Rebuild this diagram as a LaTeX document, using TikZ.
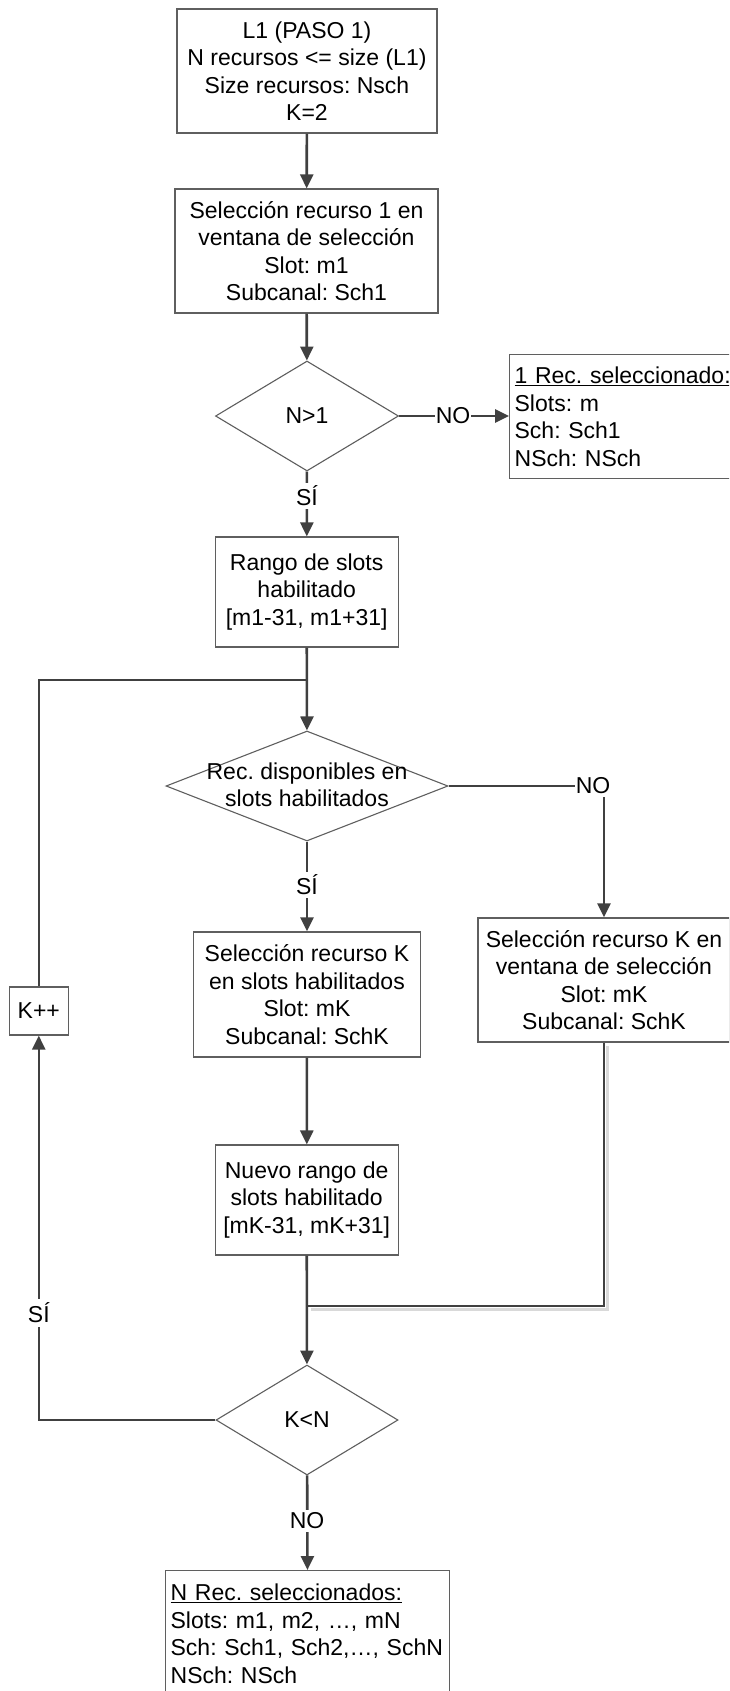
\documentclass[tikz,border=0pt]{standalone}
\usepackage{fontspec}
\setmainfont{Liberation Sans}
\usetikzlibrary{shapes.geometric,arrows.meta}
\definecolor{linec}{HTML}{404040}
\definecolor{boxc}{HTML}{5F5F5F}
\definecolor{shadowc}{HTML}{D9D9D9}
\tikzset{
  every node/.style={font=\fontsize{23}{27.5}\selectfont},
  procbox/.style={draw=boxc, line width=1.3pt, fill=white, align=center, inner sep=0pt},
  leftbox/.style={procbox, align=left, inner xsep=5pt, anchor=north west},
  decision/.style={diamond, draw=boxc, line width=1.1pt, fill=white, inner sep=0pt},
  conn/.style={draw=linec, line width=2.6pt},
  arr/.style={conn, -{Triangle[length=14pt,width=13pt]}},
  lbl/.style={fill=white, inner xsep=1pt, inner ysep=2.5pt},
}
\begin{document}
\frenchspacing
\begin{tikzpicture}[x=1pt, y=-1pt]
\useasboundingbox (0,0) rectangle (729,1691);
\clip (0,0) rectangle (729,1691);

% process boxes and decisions
\node[procbox, minimum width=260, minimum height=124] (top) at (307,71)
  {L1 (PASO 1)\\N recursos <= size (L1)\\Size recursos: Nsch\\K=2};
\node[procbox, minimum width=263, minimum height=124] (box1) at (306.5,251)
  {Selección recurso 1 en\\ventana de selección\\Slot: m1\\Subcanal: Sch1};
\node[decision, minimum width=183, minimum height=110] (d1) at (307,416) {N>1};
\node[leftbox, text width=220, minimum height=124] (rec1) at (509,354)
  {\underline{1 Rec. seleccionado:}\\Slots: m\\Sch: Sch1\\NSch: NSch};
\node[procbox, minimum width=183, minimum height=110] (rango) at (306.7,592)
  {Rango de slots\\habilitado\\{[m1-31, m1+31]}};
\node[decision, minimum width=282, minimum height=110] (d2) at (307,786) {};
\node[align=center, inner sep=0pt] (d2text) at (307,785)
  {Rec. disponibles en\\slots habilitados};
\node[procbox, minimum width=227, minimum height=125] (selK) at (307,994.5)
  {Selección recurso K\\en slots habilitados\\Slot: mK\\Subcanal: SchK};
\node[procbox, minimum width=252, minimum height=124] (selK2) at (604,980)
  {Selección recurso K en\\ventana de selección\\Slot: mK\\Subcanal: SchK};
\node[procbox, minimum width=59, minimum height=48] (kpp) at (38.8,1011) {K++};
\node[procbox, minimum width=183, minimum height=110] (nuevo) at (306.7,1200)
  {Nuevo rango de\\slots habilitado\\{[mK-31, mK+31]}};
\node[decision, minimum width=182, minimum height=110] (d3) at (307,1420) {K<N};
\node[leftbox, text width=274, minimum height=126] (final) at (165,1570)
  {\underline{N Rec. seleccionados:}\\Slots: m1, m2, …, mN\\Sch: Sch1, Sch2,…, SchN\\NSch: NSch};

% junction points
\coordinate (j1) at (307,680);
\coordinate (j2) at (307,1306);

% connectors
\draw[arr] (top) -- (box1);
\draw[arr] (box1) -- (d1);
\draw[arr] (d1.east) -- (d1.east -| rec1.west);
\node[lbl] (no1) at (453,416) {NO};
\draw[arr] (d1) -- (rango);
\node[lbl] (si1) at (307,496) {SÍ};
\draw[arr] (rango) -- (d2);
\draw[conn] (kpp.north) |- (j1);
\draw[arr] (d2.east) -| (selK2.north);
\node[lbl] (no2) at (593,786) {NO};
\draw[arr] (d2) -- (selK);
\node[lbl] (si2) at (307,885) {SÍ};
\draw[arr] (selK) -- (nuevo);
\draw[shadowc, line width=3pt] ([shift={(3.5,3.5)}]selK2.south) |- ([shift={(3.5,3.5)}]j2);
\draw[conn] (selK2.south) |- (j2);
\draw[arr] (nuevo) -- (d3);
\draw[arr] (d3.west) -| (kpp.south);
\node[lbl, inner ysep=4pt] (si3) at (38.8,1313) {SÍ};
\draw[arr] (d3) -- (final);
\node[lbl] (no3) at (307,1521) {NO};
\end{tikzpicture}
\end{document}
